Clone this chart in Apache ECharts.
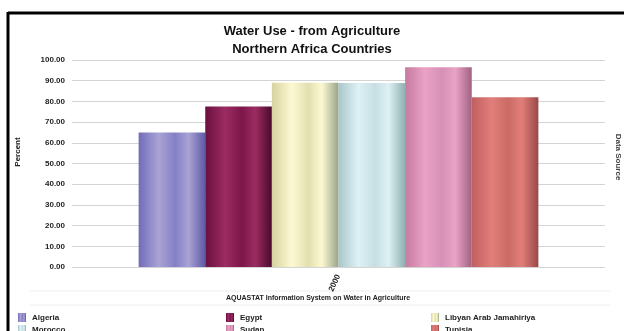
<!DOCTYPE html>
<html>
<head>
<meta charset="utf-8">
<script src="https://cdn.jsdelivr.net/npm/echarts@6/dist/echarts.min.js"></script>
<style>
  html, body { margin: 0; padding: 0; background: #fff; }
  #chart { width: 624px; height: 331px; }
</style>
</head>
<body>
<div id="chart"></div>
<script>
// Share of water withdrawal used by agriculture, per country
const categories = ['2000'];
const countries = ['Algeria', 'Egypt', 'Libyan Arab Jamahiriya', 'Morocco', 'Sudan', 'Tunisia'];
const values = [65.0, 77.5, 89.0, 88.9, 96.5, 82.0];
const yTicks = { min: 0, max: 100, interval: 10 };

// cylinder-like shading per bar: [edge, highlight, mid, dark edge]
const shades = [
  ['#716cb8', '#aaa3d6', '#8580c6', '#5d59a4'],
  ['#6a0f3e', '#9c2c62', '#7d1649', '#4a0a2c'],
  ['#d6d2a0', '#fcf9d2', '#e2e0b0', '#98a488'],
  ['#a9c6ca', '#def1f5', '#c6dfe3', '#8eb0b0'],
  ['#c67aa0', '#eaa3c6', '#d690b6', '#a06282'],
  ['#bf6060', '#e27e7a', '#cb6b65', '#984848']
];

function barFill(s) {
  return new echarts.graphic.LinearGradient(0, 0, 1, 0, [
    { offset: 0, color: s[0] },
    { offset: 0.3, color: s[1] },
    { offset: 0.55, color: s[2] },
    { offset: 0.75, color: s[1] },
    { offset: 1, color: s[3] }
  ]);
}

const font = 'Liberation Sans, Arial, sans-serif';
const chart = echarts.init(document.getElementById('chart'), null, { renderer: 'canvas' });

const series = countries.map((name, i) => ({
  name: name,
  type: 'bar',
  data: [values[i]],
  barGap: '0%',
  barCategoryGap: '25%',
  itemStyle: { color: barFill(shades[i]) },
  emphasis: { disabled: true }
}));

// legend laid out in three columns, two rows
const legendCols = [13, 221, 426];
const legendRows = [308, 320];
const legends = countries.map((name, i) => ({
  left: legendCols[i % 3],
  top: legendRows[Math.floor(i / 3)],
  itemWidth: 8,
  itemHeight: 9,
  icon: 'rect',
  data: [name],
  textStyle: { fontFamily: font, fontSize: 8, fontWeight: 'bold', color: '#222', padding: [0, 0, 0, 1] }
}));

chart.setOption({
  animation: false,
  backgroundColor: '#fff',
  title: {
    text: 'Water Use - from Agriculture\nNorthern Africa Countries',
    left: 'center',
    top: 17,
    textStyle: { fontFamily: font, fontSize: 13, fontWeight: 'bold', color: '#111', lineHeight: 18 }
  },
  legend: legends,
  grid: { left: 72, right: 19, top: 60, bottom: 64 },
  xAxis: {
    type: 'category',
    data: categories,
    axisLine: { show: false },
    axisTick: { show: false },
    axisLabel: { rotate: 65, margin: 8, fontFamily: font, fontSize: 8, fontWeight: 'bold', color: '#222' }
  },
  yAxis: {
    type: 'value',
    min: yTicks.min,
    max: yTicks.max,
    interval: yTicks.interval,
    axisLine: { show: false },
    axisTick: { show: false },
    axisLabel: {
      margin: 7,
      fontFamily: font, fontSize: 8, fontWeight: 'bold', color: '#222',
      formatter: v => v.toFixed(2)
    },
    splitLine: { lineStyle: { color: '#d4d4d4', width: 1 } }
  },
  series: series,
  graphic: [
    { type: 'line', shape: { x1: 8, y1: 12, x2: 8, y2: 331 }, style: { stroke: '#000', lineWidth: 3 } },
    { type: 'line', shape: { x1: 8, y1: 13, x2: 624, y2: 13 }, style: { stroke: '#000', lineWidth: 3 } },
    { type: 'line', shape: { x1: 30, y1: 291, x2: 610, y2: 291 }, style: { stroke: '#eeeeee', lineWidth: 1 } },
    { type: 'line', shape: { x1: 30, y1: 305, x2: 610, y2: 305 }, style: { stroke: '#eeeeee', lineWidth: 1 } },
    {
      type: 'text', x: 18, y: 152, rotation: Math.PI / 2,
      style: { text: 'Percent', fontFamily: font, fontSize: 8, fontWeight: 'bold', fill: '#222', align: 'center', verticalAlign: 'middle' }
    },
    {
      type: 'text', x: 318, y: 298,
      style: { text: 'AQUASTAT Information System on Water in Agriculture', fontFamily: font, fontSize: 7, fontWeight: 'bold', fill: '#222', align: 'center', verticalAlign: 'middle' }
    },
    {
      type: 'text', x: 618, y: 157, rotation: -Math.PI / 2,
      style: { text: 'Data Source', fontFamily: font, fontSize: 8, fontWeight: 'bold', fill: '#444', align: 'center', verticalAlign: 'middle' }
    }
  ]
});
</script>
</body>
</html>
